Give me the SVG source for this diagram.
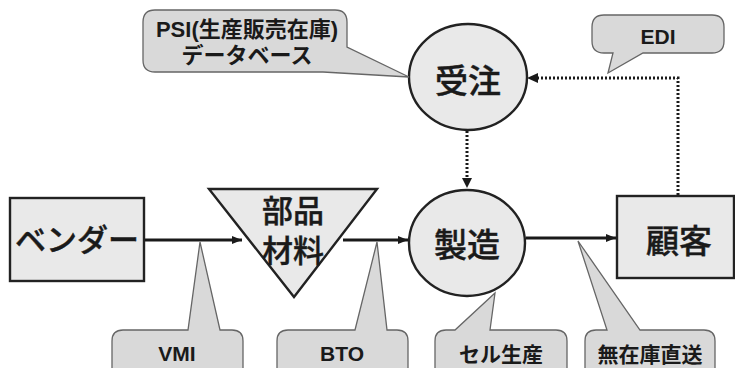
<svg xmlns="http://www.w3.org/2000/svg" width="735" height="368" viewBox="0 0 735 368">
<defs>
<style>
.node{fill:#e9e9e9;stroke:#222;stroke-width:2.4}
.call{fill:#d9d9d9;stroke:#666;stroke-width:1.3}
.big{font-family:"Liberation Sans","Noto Sans CJK JP",sans-serif;font-size:33px;fill:#1a1a1a;text-anchor:middle;font-weight:500;stroke:#1a1a1a;stroke-width:0.4}
.lab{font-family:"Liberation Sans","Noto Sans CJK JP",sans-serif;font-size:21px;fill:#1a1a1a;text-anchor:middle;font-weight:bold}
.solid{fill:none;stroke:#1a1a1a;stroke-width:2.8}
.dot{fill:none;stroke:#1a1a1a;stroke-width:3;stroke-dasharray:2 2}
</style>
<marker id="ah" viewBox="0 0 10 10" refX="10" refY="5" markerWidth="10" markerHeight="10" markerUnits="userSpaceOnUse" orient="auto"><path d="M0,1 L10,5 L0,9 Z" fill="#1a1a1a"/></marker>
</defs>
<rect width="735" height="368" fill="#ffffff"/>

<g id="connectors">
<line class="solid" x1="144" y1="240" x2="242" y2="240" marker-end="url(#ah)"/>
<line class="solid" x1="343" y1="240" x2="408" y2="240" marker-end="url(#ah)"/>
<line class="solid" x1="526" y1="238" x2="616" y2="238" marker-end="url(#ah)"/>
<polyline class="dot" points="678,195 678,78 537,78"/>
<path d="M538,73 L527,78 L538,83 Z" fill="#1a1a1a"/>
<line class="dot" x1="467" y1="131" x2="467" y2="179"/>
<path d="M462,178 L467,188 L472,178 Z" fill="#1a1a1a"/>
</g>

<g id="vendor">
<rect class="node" x="10" y="198" width="134" height="83"/>
<text class="big" x="77" y="251" style="font-size:31px">ベンダー</text>
</g>

<g id="parts">
<polygon class="node" points="209,189 377,189 294,297"/>
<text class="big" x="293" y="222" style="font-size:31px">部品</text>
<text class="big" x="293" y="262" style="font-size:31px">材料</text>
</g>

<g id="order">
<ellipse class="node" cx="468" cy="77" rx="59" ry="53"/>
<text class="big" x="468" y="93">受注</text>
</g>

<g id="manufacture">
<ellipse class="node" cx="467" cy="243" rx="58" ry="53"/>
<text class="big" x="467" y="257">製造</text>
</g>

<g id="customer">
<rect class="node" x="617" y="196" width="117" height="82"/>
<text class="big" x="679" y="253">顧客</text>
</g>

<g id="psi">
<path class="call" d="M155,10 L335,10 Q347,10 347,22 L347,47 L409,77 L323,72 L155,72 Q143,72 143,60 L143,22 Q143,10 155,10 Z"/>
<text class="lab" x="247" y="37" style="font-size:22px">PSI(生産販売在庫)</text>
<text class="lab" x="247" y="63" style="font-size:22px">データベース</text>
</g>

<g id="edi">
<path class="call" d="M604,15 L712,15 Q724,15 724,27 L724,41 Q724,53 712,53 L643,53 L608,73 L613,53 L604,53 Q592,53 592,41 L592,27 Q592,15 604,15 Z"/>
<text class="lab" x="658" y="44">EDI</text>
</g>

<g id="vmi">
<path class="call" d="M112,372 L112,341 Q112,330 123,330 L188,330 L200,242 L220,330 L232,330 Q243,330 243,341 L243,372 Z"/>
<text class="lab" x="177" y="361">VMI</text>
</g>

<g id="bto">
<path class="call" d="M277,372 L277,341 Q277,330 288,330 L355,330 L377,242 L387,330 L397,330 Q408,330 408,341 L408,372 Z"/>
<text class="lab" x="342" y="361">BTO</text>
</g>

<g id="cell">
<path class="call" d="M435,372 L435,341 Q435,330 446,330 L455,330 L495,293 L490,330 L556,330 Q567,330 567,341 L567,372 Z"/>
<text class="lab" x="501" y="362">セル生産</text>
</g>

<g id="direct">
<path class="call" d="M585,372 L585,341 Q585,330 596,330 L607,330 L578,241 L640,330 L704,330 Q715,330 715,341 L715,372 Z"/>
<text class="lab" x="650" y="362">無在庫直送</text>
</g>
</svg>
